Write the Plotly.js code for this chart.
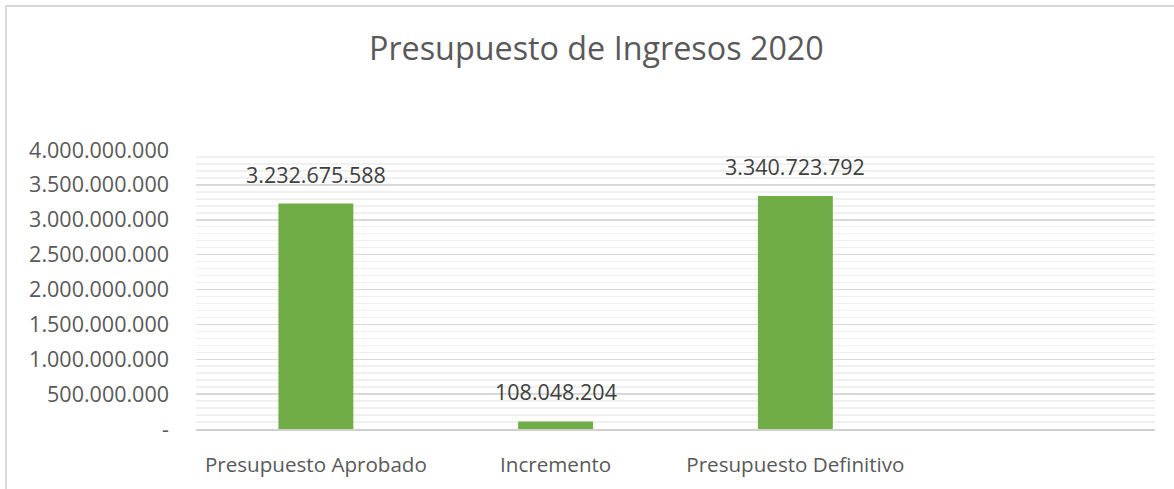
<!DOCTYPE html>
<html>
<head>
<meta charset="utf-8">
<script src="https://cdn.plot.ly/plotly-3.0.1.min.js"></script>
<style>
  html, body { margin: 0; padding: 0; background: #fff; }
  #wrap { position: relative; width: 1174px; height: 489px; overflow: hidden; }
  #chart { position: absolute; left: 0; top: 0; width: 1174px; height: 489px; }
  #frame { position: absolute; left: 5px; top: 5px; width: 1300px; height: 600px;
           border-top: 2px solid #d9d9d9; border-left: 2px solid #d9d9d9; pointer-events: none; }
</style>
</head>
<body>
<div id="wrap">
  <div id="chart"></div>
  <div id="frame"></div>
</div>
<script>
const categories = ["Presupuesto Aprobado", "Incremento", "Presupuesto Definitivo"];
const values = [3232675588, 108048204, 3340723792];
const valueLabels = ["3.232.675.588", "108.048.204", "3.340.723.792"];
const tickValues = [0, 500000000, 1000000000, 1500000000, 2000000000, 2500000000, 3000000000, 3500000000, 4000000000];
const tickLabels = ["-", "500.000.000", "1.000.000.000", "1.500.000.000", "2.000.000.000", "2.500.000.000", "3.000.000.000", "3.500.000.000", "4.000.000.000"];

const FONT = "Open Sans, sans-serif";
const TXT = "#595959";

const trace = {
  type: "bar",
  x: categories,
  y: values,
  marker: { color: "#70AD47" },
  hoverinfo: "none"
};

const annotations = categories.map((c, i) => ({
  x: c, y: values[i], xref: "x", yref: "y",
  text: valueLabels[i], showarrow: false,
  yanchor: "bottom", yshift: 13,
  font: { family: FONT, size: 21.5, color: "#404040" }
}));

const layout = {
  width: 1174, height: 489,
  margin: { l: 196, r: 19, t: 150, b: 60 },
  paper_bgcolor: "rgba(0,0,0,0)",
  plot_bgcolor: "rgba(0,0,0,0)",
  bargap: 0.6875,
  showlegend: false,
  title: {
    text: "Presupuesto de Ingresos 2020",
    x: 0.508, xanchor: "center", xref: "container",
    y: 0.9, yanchor: "middle", yref: "container",
    font: { family: FONT, size: 32.3, color: TXT }
  },
  xaxis: {
    type: "category",
    range: [-0.5, 3.5],
    showgrid: false,
    showline: true, linecolor: "#d0d0d0", linewidth: 1.5,
    ticks: "",
    ticklabelstandoff: 17,
    tickfont: { family: FONT, size: 20.6, color: TXT },
    fixedrange: true
  },
  yaxis: {
    range: [0, 4000000000],
    tickmode: "array",
    tickvals: tickValues,
    ticktext: tickLabels,
    showgrid: true, gridcolor: "#d9d9d9", gridwidth: 1.5,
    zeroline: false,
    showline: false,
    ticks: "",
    ticklabelstandoff: 26,
    tickfont: { family: FONT, size: 21.5, color: TXT },
    minor: { tickmode: "linear", tick0: 0, dtick: 100000000, showgrid: true, gridcolor: "#f0f0f0", gridwidth: 1.5 },
    fixedrange: true
  },
  annotations: annotations
};

Plotly.newPlot("chart", [trace], layout, { staticPlot: true, displayModeBar: false });
</script>
</body>
</html>
